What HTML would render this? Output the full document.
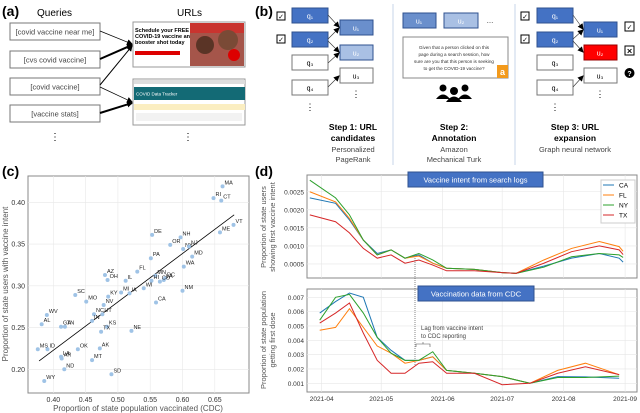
<!DOCTYPE html>
<html><head><meta charset="utf-8"><style>
html,body{margin:0;padding:0;background:#fff;}
svg{display:block;font-family:"Liberation Sans",sans-serif;}
</style></head><body>
<svg id="fig" width="640" height="413" viewBox="0 0 640 413" xmlns="http://www.w3.org/2000/svg">
<defs>
<marker id="ah" markerUnits="userSpaceOnUse" markerWidth="6" markerHeight="6" refX="5" refY="3" orient="auto"><path d="M0,0 L6,3 L0,6z" fill="#000"/></marker>
</defs>
<!-- Panel a -->
<g>
<text x="2" y="16" font-size="14" font-weight="bold">(a)</text>
<text x="37" y="16" font-size="10">Queries</text>
<text x="177" y="16" font-size="10">URLs</text>
<g font-size="7.5" fill="#444" text-anchor="middle">
<rect x="10" y="23" width="90" height="17" fill="#fff" stroke="#777"/><text x="55" y="34.5">[covid vaccine near me]</text>
<rect x="10" y="51" width="90" height="17" fill="#fff" stroke="#777"/><text x="55" y="62.5">[cvs covid vaccine]</text>
<rect x="10" y="78" width="90" height="17" fill="#fff" stroke="#777"/><text x="55" y="89.5">[covid vaccine]</text>
<rect x="10" y="105" width="90" height="17" fill="#fff" stroke="#777"/><text x="55" y="116.5">[vaccine stats]</text>
</g>
<g stroke="#000" marker-end="url(#ah)">
<line x1="100" y1="31" x2="132" y2="44" stroke-width="0.7"/>
<line x1="100" y1="59" x2="132" y2="45" stroke-width="2"/>
<line x1="100" y1="85" x2="132" y2="46" stroke-width="1"/>
<line x1="100" y1="87" x2="132" y2="102" stroke-width="0.7"/>
<line x1="100" y1="113" x2="132" y2="103" stroke-width="2"/>
</g>
<g>
<rect x="133" y="22" width="112" height="45" fill="#fff" stroke="#999"/>
<text x="135" y="32" font-size="5.5" font-weight="bold">Schedule your FREE</text>
<text x="135" y="38" font-size="5.5" font-weight="bold">COVID-19 vaccine and</text>
<text x="135" y="44" font-size="5.5" font-weight="bold">booster shot today</text>
<rect x="135" y="51" width="45" height="4" fill="#d00"/>
<rect x="190" y="23" width="54" height="43" fill="#a5554a"/>
<rect x="190" y="23" width="54" height="10" fill="#c9342f"/>
<circle cx="205" cy="45" r="9" fill="#5a3426"/>
<circle cx="228" cy="40" r="10" fill="#7a4a36"/>
<circle cx="234" cy="55" r="6" fill="#d00"/>
</g>
<g>
<rect x="133" y="79" width="112" height="46" fill="#fff" stroke="#999"/>
<rect x="134" y="80" width="111" height="4" fill="#ddd"/>
<rect x="134" y="87" width="111" height="13" fill="#136a75"/>
<text x="136" y="95.5" font-size="4.5" fill="#fff">COVID Data Tracker</text>
<rect x="134" y="104" width="111" height="6" fill="#fbeec1"/>
<rect x="136" y="113" width="106" height="8" fill="#f2f2f2"/>
</g>
<text x="55" y="140" font-size="10" text-anchor="middle">⋮</text>
<text x="188" y="140" font-size="10" text-anchor="middle">⋮</text>
</g>
<!-- Panel b -->
<g font-size="7">
<text x="255" y="16" font-size="14" font-weight="bold">(b)</text>
<line x1="393" y1="4" x2="393" y2="165" stroke="#c7d6ea"/>
<line x1="515" y1="4" x2="515" y2="165" stroke="#c7d6ea"/>
<g stroke="#000" fill="#fff"><rect x="277" y="12" width="8" height="8"/><rect x="277" y="35" width="8" height="8"/></g>
<g font-size="7" text-anchor="middle"><text x="281" y="19">✓</text><text x="281" y="42">✓</text></g>
<g text-anchor="middle">
<rect x="292" y="8" width="36" height="15" fill="#4472c4" stroke="#2f528f"/><text x="310" y="18.5" fill="#fff">q₁</text>
<rect x="292" y="32" width="36" height="15" fill="#4472c4" stroke="#2f528f"/><text x="310" y="42.5" fill="#fff">q₂</text>
<rect x="292" y="55" width="36" height="15" fill="#fff" stroke="#777"/><text x="310" y="65.5">q₃</text>
<rect x="292" y="80" width="36" height="15" fill="#fff" stroke="#777"/><text x="310" y="90.5">q₄</text>
<rect x="340" y="20" width="33" height="15" fill="#6a8fcc" stroke="#2f528f"/><text x="356" y="30.5" fill="#fff">u₁</text>
<rect x="340" y="45" width="33" height="15" fill="#a9c0e4" stroke="#2f528f"/><text x="356" y="55.5" fill="#fff">u₂</text>
<rect x="340" y="68" width="33" height="15" fill="#fff" stroke="#777"/><text x="356" y="78.5">u₃</text>
<text x="356" y="97" font-size="9">⋮</text><text x="310" y="110" font-size="9">⋮</text>
</g>
<g stroke="#333" stroke-width="0.6" marker-end="url(#ah)">
<line x1="328" y1="15" x2="339" y2="27"/><line x1="328" y1="39" x2="339" y2="28"/><line x1="328" y1="41" x2="339" y2="52"/><line x1="328" y1="63" x2="339" y2="53"/><line x1="328" y1="87" x2="339" y2="76"/>
</g>
<g text-anchor="middle" font-size="8.5">
<text x="353" y="130" font-weight="bold">Step 1: URL</text><text x="353" y="141" font-weight="bold">candidates</text>
<text x="353" y="152" fill="#444" font-size="7.5">Personalized</text><text x="353" y="162" fill="#444" font-size="7.5">PageRank</text>
<text x="454" y="130" font-weight="bold">Step 2:</text><text x="454" y="141" font-weight="bold">Annotation</text>
<text x="454" y="152" fill="#444" font-size="7.5">Amazon</text><text x="454" y="162" fill="#444" font-size="7.5">Mechanical Turk</text>
<text x="575" y="130" font-weight="bold">Step 3: URL</text><text x="575" y="141" font-weight="bold">expansion</text>
<text x="575" y="152" fill="#444" font-size="7.5">Graph neural network</text>
</g>
<g text-anchor="middle">
<rect x="403" y="13" width="33" height="15" fill="#6a8fcc" stroke="#2f528f"/><text x="419" y="23.5" fill="#fff">u₁</text>
<rect x="444" y="13" width="34" height="15" fill="#a9c0e4" stroke="#2f528f"/><text x="461" y="23.5" fill="#fff">u₂</text>
<text x="490" y="23">…</text>
<rect x="403" y="37" width="105" height="41" fill="#fff" stroke="#888"/>
<g font-size="4.6" fill="#333"><text x="454" y="49">Given that a person clicked on this</text><text x="454" y="56">page during a search session, how</text><text x="454" y="63">sure are you that this person is seeking</text><text x="454" y="70">to get the COVID-19 vaccine?</text></g>
<rect x="497" y="65" width="11" height="13" fill="#f39a1c"/><text x="502.5" y="75" fill="#fff" font-size="9" font-weight="bold">a</text>
</g>
<g fill="#000">
<circle cx="443" cy="88" r="3.5"/><circle cx="465" cy="88" r="3.5"/><circle cx="454" cy="91" r="4"/>
<path d="M436,99 q7,-9 14,0z"/><path d="M458,99 q7,-9 14,0z"/><path d="M446,102 q8,-11 16,0z"/>
</g>
<g stroke="#000" fill="#fff"><rect x="521" y="12" width="8" height="8"/><rect x="521" y="35" width="8" height="8"/><rect x="625" y="22" width="9" height="9"/><rect x="625" y="46" width="9" height="9"/></g>
<g font-size="7" text-anchor="middle"><text x="525" y="19">✓</text><text x="525" y="42">✓</text><text x="629.5" y="29.5">✓</text><text x="629.5" y="53.5" font-weight="bold">✕</text></g>
<circle cx="629.5" cy="73" r="5" fill="#000"/><text x="629.5" y="76" font-size="7" fill="#fff" text-anchor="middle" font-weight="bold">?</text>
<g text-anchor="middle">
<rect x="537" y="8" width="36" height="15" fill="#4472c4" stroke="#2f528f"/><text x="555" y="18.5" fill="#fff">q₁</text>
<rect x="537" y="32" width="36" height="15" fill="#4472c4" stroke="#2f528f"/><text x="555" y="42.5" fill="#fff">q₂</text>
<rect x="537" y="55" width="36" height="15" fill="#fff" stroke="#777"/><text x="555" y="65.5">q₃</text>
<rect x="537" y="80" width="36" height="15" fill="#fff" stroke="#777"/><text x="555" y="90.5">q₄</text>
<rect x="584" y="22" width="33" height="15" fill="#4472c4" stroke="#2f528f"/><text x="600" y="32.5" fill="#fff">u₁</text>
<rect x="584" y="45" width="33" height="15" fill="#f00" stroke="#900"/><text x="600" y="55.5" fill="#fff">u₂</text>
<rect x="584" y="68" width="33" height="15" fill="#fff" stroke="#777"/><text x="600" y="78.5">u₃</text>
<text x="600" y="97" font-size="9">⋮</text><text x="555" y="110" font-size="9">⋮</text>
</g>
<g stroke="#333" stroke-width="0.6" marker-end="url(#ah)">
<line x1="573" y1="15" x2="583" y2="29"/><line x1="573" y1="39" x2="583" y2="30"/><line x1="573" y1="41" x2="583" y2="52"/><line x1="573" y1="87" x2="583" y2="76"/>
</g>
</g>
<!-- Panel c -->
<g id="pc">
<text x="2" y="176" font-size="14" font-weight="bold">(c)</text>
</g>
<!-- Panel d -->
<g id="pd">
<text x="255" y="176" font-size="14" font-weight="bold">(d)</text>
</g>
</svg>
<script>
const NS='http://www.w3.org/2000/svg';
// ---- panel c data ----
const states=['MA','RI','CT','VT','ME','DE','NH','OR','NY','NJ','MD','PA','WA','FL','MN','DC','VA','CO','HI','AZ','OH','IL','MI','IA','WI','NM','KY','SC','MO','NV','CA','UT','NC','WV','AL','GA','TN','IN','KS','TX','NE','MS','ID','OK','AK','LA','AR','MT','ND','SD','WY'];
const vaccinated=[0.662,0.648,0.660,0.679,0.658,0.553,0.597,0.581,0.601,0.610,0.615,0.551,0.602,0.530,0.558,0.573,0.571,0.565,0.552,0.480,0.484,0.512,0.505,0.518,0.540,0.600,0.485,0.434,0.451,0.478,0.559,0.476,0.463,0.390,0.382,0.412,0.418,0.460,0.483,0.474,0.521,0.376,0.391,0.438,0.472,0.412,0.413,0.460,0.417,0.490,0.386];
const intent=[0.419,0.405,0.402,0.373,0.364,0.361,0.358,0.349,0.344,0.347,0.335,0.333,0.323,0.317,0.312,0.309,0.307,0.305,0.306,0.313,0.307,0.306,0.292,0.291,0.297,0.294,0.287,0.289,0.281,0.277,0.280,0.266,0.266,0.265,0.254,0.251,0.251,0.258,0.251,0.245,0.246,0.224,0.224,0.224,0.225,0.215,0.213,0.211,0.200,0.194,0.186];
const xTicksC=[0.40,0.45,0.50,0.55,0.60,0.65];
const yTicksC=[0.20,0.25,0.30,0.35,0.40];
const fitX=[0.378,0.680];
const fitY=[0.210,0.385];
// ---- panel d data ----
const daysTop=[-6,7,14,21,28,35,42,49,56,63,77,91,98,112,126,140,150,152];
const caTop=[23.3,21.8,17.2,11.6,7.9,8.9,6.6,7.5,5.2,3.8,3.5,2.6,2.4,4.4,6.6,7.9,6.6,5.5];
const flTop=[25.0,22.2,17.6,11.6,7.5,8.9,6.6,7.2,5.2,3.8,3.5,2.6,2.4,6.1,9.3,11.2,9.8,8.5];
const nyTop=[28.2,23.3,18.6,11.6,7.5,8.9,6.6,7.9,6.1,3.8,3.5,2.6,2.4,4.1,7.0,7.9,7.5,6.8];
const txTop=[18.6,16.7,13.6,9.3,6.6,7.5,5.2,6.1,4.7,3.1,3.1,2.6,2.4,5.2,8.4,10.0,8.9,7.6];
const daysBot=[-1,7,14,21,28,35,42,49,56,63,77,91,105,119,133,150];
const caBot=[5.9,6.7,7.3,7.0,4.2,3.3,2.6,2.6,2.85,1.9,1.7,1.46,1.0,1.46,1.45,1.35];
const flBot=[4.7,4.9,6.2,4.9,3.6,3.1,2.4,2.6,2.85,1.9,1.7,1.46,1.0,1.9,2.4,1.6];
const nyBot=[5.4,7.0,7.2,5.9,4.2,3.1,2.6,2.6,3.2,1.9,1.7,1.46,1.0,1.4,1.4,1.5];
const txBot=[5.2,5.9,6.6,4.5,2.6,1.7,1.7,2.4,2.5,1.7,1.7,0.9,1.0,1.7,2.15,1.6];
const yTicksTop=[5,10,15,20,25];
const yTicksBot=[1,2,3,4,5,6,7];
const monthLabels=['2021-04','2021-05','2021-06','2021-07','2021-08','2021-09'];
const monthDays=[0,30,61,91,122,153];
const legendNames=['CA','FL','NY','TX'];
const colors=['#1f77b4','#ff7f0e','#2ca02c','#d62728'];

function el(tag,attrs,parent,txt){const e=document.createElementNS(NS,tag);for(const k in attrs)e.setAttribute(k,attrs[k]);if(txt!==undefined)e.textContent=txt;parent.appendChild(e);return e;}

// ---- panel c ----
const pc=document.getElementById('pc');
const cx=v=>53.3+(v-0.40)/0.05*32.3;
const cy=v=>369.3-(v-0.20)/0.05*41.75;
const cf=el('rect',{x:28,y:176,width:221,height:217,fill:'#fff',stroke:'#888'},pc);


xTicksC.forEach(t=>{
  el('line',{x1:cx(t),x2:cx(t),y1:176,y2:393,stroke:'#e8e8e8','stroke-width':0.6},pc);
  const tl=el('text',{x:cx(t),y:402,'font-size':7,'text-anchor':'middle',fill:'#333'},pc,t.toFixed(2));
  
  
});
yTicksC.forEach(t=>{
  el('line',{x1:28,x2:249,y1:cy(t),y2:cy(t),stroke:'#e8e8e8','stroke-width':0.6},pc);
  const tl=el('text',{x:25,y:cy(t)+2.5,'font-size':7,'text-anchor':'end',fill:'#333'},pc,t.toFixed(2));
  
  
});
const xt=el('text',{x:138,y:411,'font-size':8,'text-anchor':'middle',fill:'#555'},pc,'Proportion of state population vaccinated (CDC)');


const yt=el('text',{x:0,y:0,'font-size':8,'text-anchor':'middle',fill:'#555',transform:'translate(8,284) rotate(-90)'},pc,'Proportion of state users with vaccine intent');


const fl=el('line',{x1:cx(fitX[0]),y1:cy(fitY[0]),x2:cx(fitX[1]),y2:cy(fitY[1]),stroke:'#000','stroke-width':0.8},pc);


states.forEach((s,i)=>{
  const p=el('circle',{cx:cx(vaccinated[i]),cy:cy(intent[i]),r:2,fill:'#9fc3e6'},pc);
  
  
  el('text',{x:cx(vaccinated[i])+2,y:cy(intent[i])-2,'font-size':5.5,fill:'#222'},pc,s);
});

// ---- panel d ----
const pd=document.getElementById('pd');
const dx=d=>321.7+d*1.983;
const ty=v=>282-v*3.61;
const by=v=>397.6-v*14.33;
function axesBox(y0,y1,name){
  const r=el('rect',{x:307,y:y0,width:330,height:y1-y0,fill:'#fff',stroke:'#888'},pd);
  
  
  monthDays.forEach(d=>el('line',{x1:dx(d),x2:dx(d),y1:y0,y2:y1,stroke:'#e6e6e6','stroke-width':0.6},pd));
}
axesBox(175,278,'intent-plot-area');
axesBox(289,392,'cdc-plot-area');
yTicksTop.forEach(t=>{
  el('line',{x1:307,x2:637,y1:ty(t),y2:ty(t),stroke:'#e6e6e6','stroke-width':0.6},pd);
  const tl=el('text',{x:304,y:ty(t)+2.5,'font-size':6.5,'text-anchor':'end',fill:'#333'},pd,(t/10000).toFixed(4));
  
  
});
yTicksBot.forEach(t=>{
  el('line',{x1:307,x2:637,y1:by(t),y2:by(t),stroke:'#e6e6e6','stroke-width':0.6},pd);
  const tl=el('text',{x:304,y:by(t)+2.5,'font-size':6.5,'text-anchor':'end',fill:'#333'},pd,(t/1000).toFixed(3));
  
  
});
monthLabels.forEach((m,i)=>{
  const tl=el('text',{x:dx(monthDays[i]),y:401,'font-size':6.5,'text-anchor':'middle',fill:'#333'},pd,m);
  
  
});
[['Proportion of state users','showing first vaccine intent',227],['Proportion of state population','getting first dose',340]].forEach(a=>{
  const g=el('text',{'font-size':7.5,'text-anchor':'middle',fill:'#555',transform:'translate(266,'+a[2]+') rotate(-90)'},pd);
  
  
  el('tspan',{x:0,y:0},g,a[0]);el('tspan',{x:0,y:9},g,a[1]);
});
const topSeries=[caTop,flTop,nyTop,txTop], botSeries=[caBot,flBot,nyBot,txBot];
topSeries.forEach((s,i)=>{
  const p=el('polyline',{points:s.map((v,j)=>dx(daysTop[j])+','+ty(v)).join(' '),fill:'none',stroke:colors[i],'stroke-width':1},pd);
  
  
});
botSeries.forEach((s,i)=>{
  const p=el('polyline',{points:s.map((v,j)=>dx(daysBot[j])+','+by(v)).join(' '),fill:'none',stroke:colors[i],'stroke-width':1},pd);
  
  
});
el('line',{x1:415,x2:415,y1:258,y2:366,stroke:'#555','stroke-width':0.7,'stroke-dasharray':'1,1'},pd);
el('path',{d:'M416,347 v-3 h14 v3 M423,344 v-2',fill:'none',stroke:'#555','stroke-width':0.6},pd);
el('text',{x:421,y:330,'font-size':6,fill:'#444'},pd,'Lag from vaccine intent');
el('text',{x:421,y:338,'font-size':6,fill:'#444'},pd,'to CDC reporting');
function banner(x,y,w,t,name){
  const r=el('rect',{x:x,y:y,width:w,height:15,fill:'#4472c4',stroke:'#2f528f'},pd);
  
  
  el('text',{x:x+w/2,y:y+10.5,'font-size':7.5,fill:'#fff','text-anchor':'middle'},pd,t);
}
banner(408,172,135,'Vaccine intent from search logs','intent-banner');
banner(418,286,116,'Vaccination data from CDC','cdc-banner');
const lg=el('rect',{x:601,y:180,width:34,height:43,fill:'#fff',stroke:'#ccc'},pd);


legendNames.forEach((n,i)=>{
  const yy=185+i*10;
  const ln=el('line',{x1:603,x2:614,y1:yy,y2:yy,stroke:colors[i],'stroke-width':1},pd);
  
  
  el('text',{x:619,y:yy+2.5,'font-size':6.5},pd,n);
});
</script>
</body></html>
